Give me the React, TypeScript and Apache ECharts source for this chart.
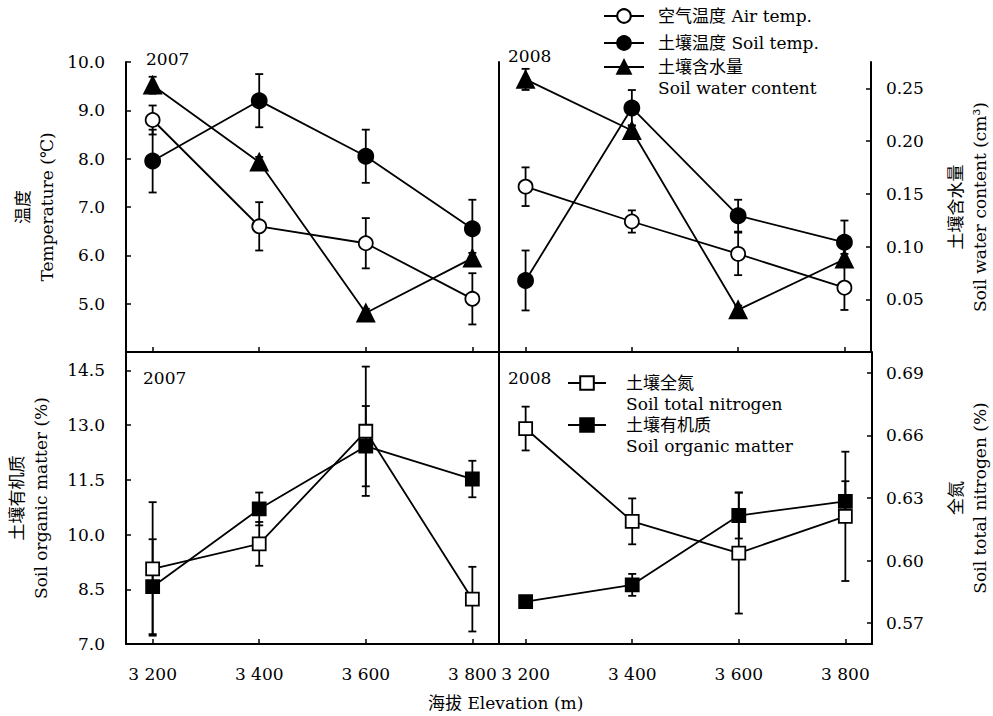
import React, { useEffect, useRef } from 'react';
import * as echarts from 'echarts';

// ---------- data ----------
const elevations = [3200, 3400, 3600, 3800];
const elevationLabels = ['3 200', '3 400', '3 600', '3 800'];

const tempTicks = [5, 6, 7, 8, 9, 10];
const waterTicks = [0.05, 0.1, 0.15, 0.2, 0.25];
const somTicks = [7, 8.5, 10, 11.5, 13, 14.5];
const nitrogenTicks = [0.57, 0.6, 0.63, 0.66, 0.69];

// 2007 temperature / water
const airTemp2007 = [8.8, 6.6, 6.25, 5.1];
const airTempErr2007 = [0.3, 0.5, 0.52, 0.53];
const soilTemp2007 = [7.95, 9.2, 8.05, 6.55];
const soilTempErr2007 = [0.65, 0.55, 0.55, 0.6];
const water2007 = [0.253, 0.18, 0.037, 0.089];
const waterErr2007 = [0.008, 0.005, 0.004, 0.005];

// 2008 temperature / water
const airTemp2008 = [7.42, 6.7, 6.03, 5.33];
const airTempErr2008 = [0.4, 0.23, 0.44, 0.46];
const soilTemp2008 = [5.48, 9.05, 6.82, 6.27];
const soilTempErr2008 = [0.62, 0.37, 0.33, 0.45];
const water2008 = [0.2585, 0.21, 0.04, 0.088];
const waterErr2008 = [0.01, 0.005, 0.004, 0.005];

// 2007 organic matter / nitrogen
const som2007 = [8.57, 10.7, 12.42, 11.52];
const somErr2007 = [1.3, 0.45, 1.1, 0.5];
const nitrogen2007 = [0.596, 0.608, 0.662, 0.5815];
const nitrogenErr2007 = [0.032, 0.0105, 0.031, 0.0155];

// 2008 organic matter / nitrogen
const som2008 = [8.16, 8.62, 10.52, 10.91];
const somErr2008 = [0.12, 0.3, 0.63, 0.55];
const nitrogen2008 = [0.6633, 0.6188, 0.6036, 0.6212];
const nitrogenErr2008 = [0.0105, 0.011, 0.029, 0.031];

const NAME_AIR = '空气温度 Air temp.';
const NAME_SOILT = '土壤温度 Soil temp.';
const NAME_WATER = '土壤含水量\nSoil water content';
const NAME_N = '土壤全氮\nSoil total nitrogen';
const NAME_SOM = '土壤有机质\nSoil organic matter';

// ---------- styles ----------
const FONT = "'DejaVu Serif', 'Noto Sans CJK SC', serif";
const BLACK = '#000';
const LW = 1.8;

const axisLine = { show: true, onZero: false, lineStyle: { color: BLACK, width: 2 } };
const tickBase = { show: true, inside: true, length: 5, lineStyle: { color: BLACK, width: 1.5 } };
const labelBase = { color: BLACK, fontSize: 17, fontFamily: FONT };
const nameStyle = { color: BLACK, fontSize: 17, lineHeight: 24, fontFamily: FONT };

function lineSeries(name: string, vals: number[], xi: number, yi: number, symbol: string, size: number, filled: boolean) {
  return {
    type: 'line',
    name,
    xAxisIndex: xi,
    yAxisIndex: yi,
    data: elevations.map((e, i) => [e, vals[i]]),
    symbol,
    symbolSize: size,
    showAllSymbol: true,
    lineStyle: { color: BLACK, width: LW },
    itemStyle: { color: filled ? BLACK : '#fff', borderColor: BLACK, borderWidth: LW },
    emphasis: { disabled: true },
    z: 3,
  };
}

function errSeries(id: string, vals: number[], errs: number[], xi: number, yi: number) {
  return {
    type: 'custom',
    id,
    name: id,
    xAxisIndex: xi,
    yAxisIndex: yi,
    coordinateSystem: 'cartesian2d',
    silent: true,
    z: 2,
    encode: { x: 0, y: 1 },
    data: elevations.map((e, i) => [e, vals[i], errs[i]]),
    renderItem: (params: any, api: any) => {
      const x = api.value(0);
      const y = api.value(1);
      const e = api.value(2);
      const p1 = api.coord([x, y + e]);
      const p2 = api.coord([x, y - e]);
      const hw = 4;
      const style = { stroke: BLACK, lineWidth: LW, fill: 'none' };
      return {
        type: 'group',
        children: [
          { type: 'line', shape: { x1: p1[0], y1: p1[1], x2: p2[0], y2: p2[1] }, style },
          { type: 'line', shape: { x1: p1[0] - hw, y1: p1[1], x2: p1[0] + hw, y2: p1[1] }, style },
          { type: 'line', shape: { x1: p2[0] - hw, y1: p2[1], x2: p2[0] + hw, y2: p2[1] }, style },
        ],
      };
    },
  };
}

function xAxis(gi: number, labels: boolean) {
  return {
    type: 'value',
    gridIndex: gi,
    min: 3150,
    max: 3850,
    axisLine,
    axisTick: { ...tickBase, customValues: elevations },
    axisLabel: labels
      ? {
          ...labelBase,
          margin: 21,
          customValues: elevations,
          formatter: (v: number) => {
            const k = elevations.indexOf(v);
            return k >= 0 ? elevationLabels[k] : '';
          },
        }
      : { show: false },
    splitLine: { show: false },
  };
}

// multi-line items get a leading blank line so the symbol sits beside the first text line
function legendItem(name: string, left: number, top: number, width: number, multi: boolean, padLeft: number) {
  return {
    data: [name],
    left,
    top,
    padding: 0,
    itemWidth: width,
    itemHeight: 17,
    selectedMode: false,
    formatter: (n: string) => (multi ? ' \n' + n : n),
    textStyle: {
      color: BLACK,
      fontSize: 17,
      fontFamily: FONT,
      lineHeight: 21,
      padding: [0, 0, 0, padLeft],
    },
  };
}

function titleItem(text: string, left: number, top: number) {
  return {
    text,
    left,
    top,
    padding: 0,
    textStyle: { color: BLACK, fontSize: 17, fontWeight: 'normal', fontFamily: FONT },
  };
}

const option: any = {
  animation: false,
  backgroundColor: '#fff',
  title: [
    titleItem('2007', 146, 50),
    titleItem('2008', 508, 47),
    titleItem('2007', 143, 369),
    titleItem('2008', 508, 369),
    titleItem('海拔 Elevation (m)', 428, 694),
  ],
  legend: [
    legendItem(NAME_AIR, 603, 5.5, 40, false, 9),
    legendItem(NAME_SOILT, 603, 32.5, 40, false, 9),
    legendItem(NAME_WATER, 603, 35.5, 40, true, 9),
    legendItem(NAME_N, 567, 351.5, 38, true, 15),
    legendItem(NAME_SOM, 567, 393.5, 38, true, 15),
  ],
  grid: [
    { left: 126, top: 62, width: 373, height: 290 },
    { left: 499, top: 62, width: 376, height: 290 },
    { left: 126, top: 352, width: 373, height: 292 },
    { left: 499, top: 352, width: 376, height: 292 },
  ],
  xAxis: [xAxis(0, false), xAxis(1, false), xAxis(2, true), xAxis(3, true)],
  yAxis: [
    {
      type: 'value',
      gridIndex: 0,
      position: 'left',
      min: 4,
      max: 10,
      axisLine,
      axisTick: { ...tickBase, customValues: tempTicks },
      axisLabel: { ...labelBase, margin: 21, customValues: tempTicks, formatter: (v: number) => v.toFixed(1) },
      splitLine: { show: false },
      name: '温度\nTemperature (℃)',
      nameLocation: 'middle',
      nameGap: 67,
      nameRotate: 90,
      nameTextStyle: nameStyle,
    },
    { type: 'value', gridIndex: 0, position: 'right', min: 0, max: 0.275, show: false },
    {
      type: 'value',
      gridIndex: 1,
      position: 'left',
      min: 4,
      max: 10,
      axisLine,
      axisTick: { show: false },
      axisLabel: { show: false },
      splitLine: { show: false },
    },
    {
      type: 'value',
      gridIndex: 1,
      position: 'right',
      min: 0,
      max: 0.275,
      axisLine,
      axisTick: { ...tickBase, customValues: waterTicks },
      axisLabel: { ...labelBase, margin: 15, customValues: waterTicks, formatter: (v: number) => v.toFixed(2) },
      splitLine: { show: false },
      name: '土壤含水量\nSoil water content (cm³)',
      nameLocation: 'middle',
      nameGap: 73,
      nameRotate: 90,
      nameTextStyle: nameStyle,
    },
    {
      type: 'value',
      gridIndex: 2,
      position: 'left',
      min: 7,
      max: 15,
      axisLine,
      axisTick: { ...tickBase, customValues: somTicks },
      axisLabel: { ...labelBase, margin: 21, customValues: somTicks, formatter: (v: number) => v.toFixed(1) },
      splitLine: { show: false },
      name: '土壤有机质\nSoil organic matter (%)',
      nameLocation: 'middle',
      nameGap: 73,
      nameRotate: 90,
      nameTextStyle: nameStyle,
    },
    { type: 'value', gridIndex: 2, position: 'right', min: 0.56, max: 0.7, show: false },
    {
      type: 'value',
      gridIndex: 3,
      position: 'left',
      min: 7,
      max: 15,
      axisLine,
      axisTick: { show: false },
      axisLabel: { show: false },
      splitLine: { show: false },
    },
    {
      type: 'value',
      gridIndex: 3,
      position: 'right',
      min: 0.56,
      max: 0.7,
      axisLine,
      axisTick: { ...tickBase, customValues: nitrogenTicks },
      axisLabel: { ...labelBase, margin: 14, customValues: nitrogenTicks, formatter: (v: number) => v.toFixed(2) },
      splitLine: { show: false },
      name: '全氮\nSoil total nitrogen (%)',
      nameLocation: 'middle',
      nameGap: 72,
      nameRotate: 90,
      nameTextStyle: nameStyle,
    },
  ],
  series: [
    // error bars
    errSeries('e-air07', airTemp2007, airTempErr2007, 0, 0),
    errSeries('e-soil07', soilTemp2007, soilTempErr2007, 0, 0),
    errSeries('e-water07', water2007, waterErr2007, 0, 1),
    errSeries('e-air08', airTemp2008, airTempErr2008, 1, 2),
    errSeries('e-soil08', soilTemp2008, soilTempErr2008, 1, 2),
    errSeries('e-water08', water2008, waterErr2008, 1, 3),
    errSeries('e-som07', som2007, somErr2007, 2, 4),
    errSeries('e-n07', nitrogen2007, nitrogenErr2007, 2, 5),
    errSeries('e-som08', som2008, somErr2008, 3, 6),
    errSeries('e-n08', nitrogen2008, nitrogenErr2008, 3, 7),
    // lines
    lineSeries(NAME_AIR, airTemp2007, 0, 0, 'circle', 14, false),
    lineSeries(NAME_SOILT, soilTemp2007, 0, 0, 'circle', 15, true),
    lineSeries(NAME_WATER, water2007, 0, 1, 'triangle', 17, true),
    lineSeries(NAME_AIR, airTemp2008, 1, 2, 'circle', 14, false),
    lineSeries(NAME_SOILT, soilTemp2008, 1, 2, 'circle', 15, true),
    lineSeries(NAME_WATER, water2008, 1, 3, 'triangle', 17, true),
    lineSeries(NAME_N, nitrogen2007, 2, 5, 'rect', 13, false),
    lineSeries(NAME_SOM, som2007, 2, 4, 'rect', 13, true),
    lineSeries(NAME_N, nitrogen2008, 3, 7, 'rect', 13, false),
    lineSeries(NAME_SOM, som2008, 3, 6, 'rect', 13, true),
  ],
};

export default function App() {
  const ref = useRef<HTMLDivElement>(null);
  useEffect(() => {
    if (!ref.current) return;
    const chart = echarts.init(ref.current, null, { renderer: 'svg' });
    chart.setOption(option);
    return () => chart.dispose();
  }, []);
  return <div ref={ref} style={{ position: 'absolute', left: 0, top: 0, width: 993, height: 716 }} />;
}
